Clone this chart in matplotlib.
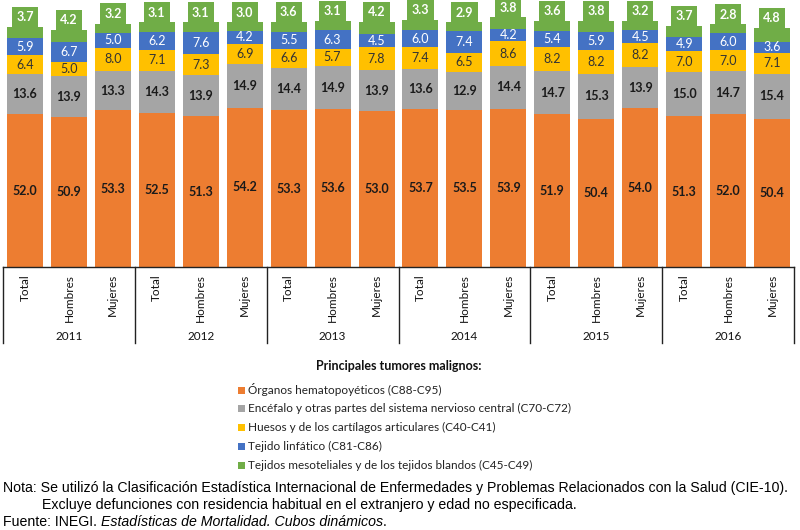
import matplotlib
matplotlib.use("Agg")
import matplotlib.pyplot as plt
from matplotlib.patches import Rectangle
from matplotlib.transforms import blended_transform_factory

years = ["2011", "2012", "2013", "2014", "2015", "2016"]
groups = ["Total", "Hombres", "Mujeres"]

organos = [52.0, 50.9, 53.3, 52.5, 51.3, 54.2, 53.3, 53.6, 53.0, 53.7, 53.5, 53.9, 51.9, 50.4, 54.0, 51.3, 52.0, 50.4]
encefalo = [13.6, 13.9, 13.3, 14.3, 13.9, 14.9, 14.4, 14.9, 13.9, 13.6, 12.9, 14.4, 14.7, 15.3, 13.9, 15.0, 14.7, 15.4]
huesos = [6.4, 5.0, 8.0, 7.1, 7.3, 6.9, 6.6, 5.7, 7.8, 7.4, 6.5, 8.6, 8.2, 8.2, 8.2, 7.0, 7.0, 7.1]
linfatico = [5.9, 6.7, 5.0, 6.2, 7.6, 4.2, 5.5, 6.3, 4.5, 6.0, 7.4, 4.2, 5.4, 5.9, 4.5, 4.9, 6.0, 3.6]
mesotel = [3.7, 4.2, 3.2, 3.1, 3.1, 3.0, 3.6, 3.1, 4.2, 3.3, 2.9, 3.8, 3.6, 3.8, 3.2, 3.7, 2.8, 4.8]

series_names = [
    "Órganos hematopoyéticos (C88-C95)",
    "Encéfalo y otras partes del sistema nervioso central (C70-C72)",
    "Huesos y de los cartílagos articulares (C40-C41)",
    "Tejido linfático (C81-C86)",
    "Tejidos mesoteliales y de los tejidos blandos (C45-C49)",
]
colors = ["#ED7D31", "#A5A5A5", "#FFC000", "#4472C4", "#70AD47"]
label_colors = ["#1a1a1a", "#1a1a1a", "#333333", "white", "white"]
label_weights = ["bold", "bold", "normal", "normal", "bold"]

legend_title = "Principales tumores malignos:"
nota1 = "Nota: Se utilizó la Clasificación Estadística Internacional de Enfermedades y Problemas Relacionados con la Salud (CIE-10)."
nota2 = "Excluye defunciones con residencia habitual en el extranjero y edad no especificada."
fuente_a = "Fuente: INEGI. "
fuente_b = "Estadísticas de Mortalidad. Cubos dinámicos"
fuente_c = "."

W, H = 800, 530
fig = plt.figure(figsize=(W / 100, H / 100), dpi=100)
fig.patch.set_facecolor("white")

ax_left, ax_right = 3, 794
ax_bottom_px = 267
ax = fig.add_axes([ax_left / W, 1 - ax_bottom_px / H, (ax_right - ax_left) / W, ax_bottom_px / H])
n = len(organos)
x = list(range(n))
ax.set_xlim(-0.5, n - 0.5)
ax.set_ylim(0, ax_bottom_px / 2.94)

lab_font = "Lato"
series = [organos, encefalo, huesos, linfatico, mesotel]
bottom = [0.0] * n
for si, vals in enumerate(series):
    ax.bar(x, vals, width=0.82, bottom=bottom, color=colors[si], edgecolor="none", zorder=2)
    for i, v in enumerate(vals):
        if si < 4:
            ax.text(i, bottom[i] + v / 2, f"{v:.1f}", ha="center", va="center",
                    fontsize=9, fontweight=label_weights[si], color=label_colors[si],
                    family=lab_font, zorder=3)
        else:
            ax.annotate(f"{v:.1f}", xy=(i, bottom[i] + v), xytext=(0, 7),
                        textcoords="offset points", ha="center", va="center",
                        fontsize=9, fontweight="bold", color="white", family=lab_font,
                        bbox=dict(boxstyle="square,pad=0.35", fc=colors[si], ec="none"),
                        zorder=4, annotation_clip=False)
    bottom = [b + v for b, v in zip(bottom, vals)]

for s in ["top", "right", "left"]:
    ax.spines[s].set_visible(False)
ax.spines["bottom"].set_color("#222222")
ax.spines["bottom"].set_linewidth(1.0)
ax.set_yticks([])
ax.set_xticks(x)
ax.set_xticklabels(groups * len(years), rotation=90, va="top", ha="center",
                   fontsize=8.5, family=lab_font, color="#111111")
ax.tick_params(axis="x", length=0, pad=5)

tr = blended_transform_factory(ax.transData, ax.transAxes)
sep_bottom = -(343 - ax_bottom_px) / ax_bottom_px
for k in range(len(years) + 1):
    xs = k * 3 - 0.5
    ax.plot([xs, xs], [0, sep_bottom], transform=tr, color="#222222", lw=1.0, clip_on=False)
year_y = -(336 - ax_bottom_px) / ax_bottom_px
for k, yr in enumerate(years):
    ax.text(k * 3 + 1, year_y, yr, transform=tr, ha="center", va="center",
            fontsize=8.5, family=lab_font, color="#111111")

# legend
fig.text(399 / W, 1 - 366 / H, legend_title, ha="center", va="center", fontsize=9,
         fontweight="bold", family=lab_font, color="#111111")
rows = [390, 408.7, 427.3, 446, 465]
for name, col, ry in zip(series_names, colors, rows):
    fig.patches.append(Rectangle((238 / W, 1 - (ry + 3.5) / H), 7 / W, 7 / H,
                                 transform=fig.transFigure, fc=col, ec="none"))
    fig.text(248 / W, 1 - ry / H, name, ha="left", va="center", fontsize=8.5,
             family=lab_font, color="#222222")

# notes
note_font = "Liberation Sans"
renderer = fig.canvas.get_renderer()
t1 = fig.text(3 / W, 1 - 488 / H, nota1, ha="left", va="center", fontsize=10, family=note_font, color="black")
wpx = t1.get_window_extent(renderer).width
fs = 10 * (785 - 3) / wpx
t1.set_fontsize(fs)
fig.text(42 / W, 1 - 505 / H, nota2, ha="left", va="center", fontsize=fs, family=note_font, color="black")
xpos = 3
for txt, style in [(fuente_a, "normal"), (fuente_b, "italic"), (fuente_c, "normal")]:
    t = fig.text(xpos / W, 1 - 522.5 / H, txt, ha="left", va="center", fontsize=fs,
                 family=note_font, style=style, color="black")
    bb = t.get_window_extent(renderer)
    xpos += bb.width

fig.savefig("out.png", dpi=100, facecolor="white")
